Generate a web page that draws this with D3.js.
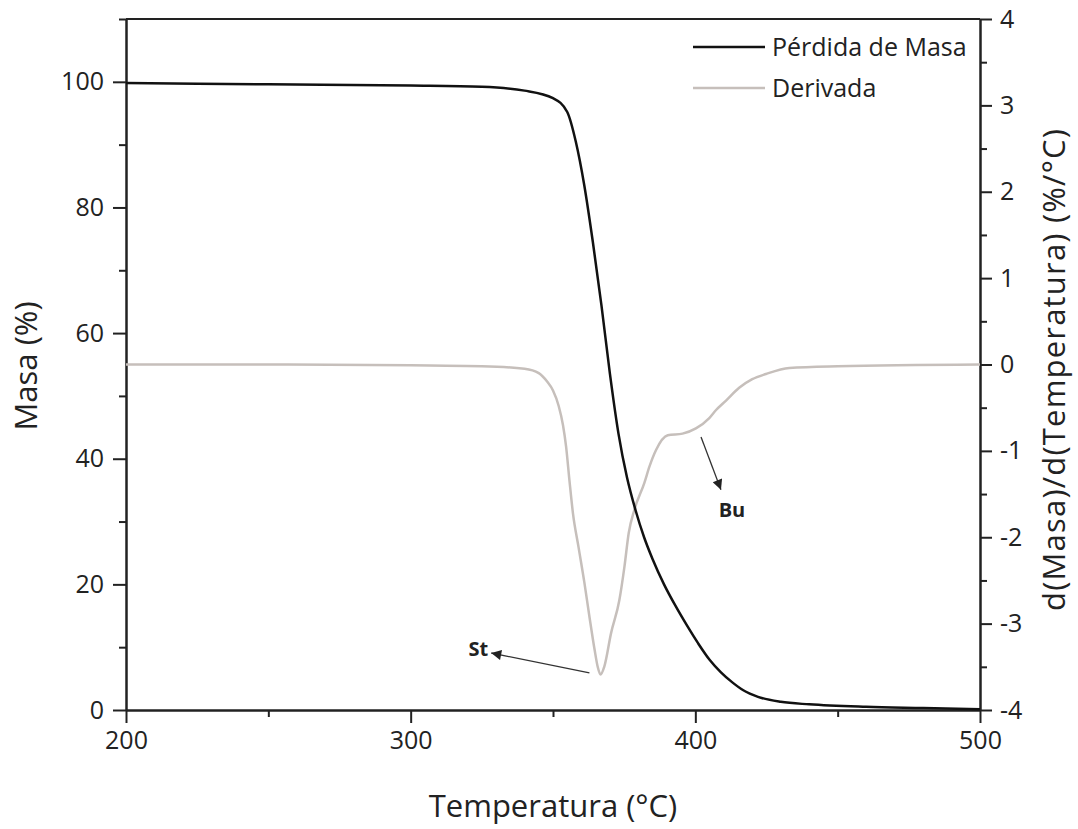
<!DOCTYPE html>
<html>
<head>
<meta charset="utf-8">
<script src="https://cdn.jsdelivr.net/npm/d3@7"></script>
<style>
  body { margin: 0; background: #fff; }
  text { font-family: "Open Sans", sans-serif; fill: #222; }
  .axis path, .axis line { stroke: #222; stroke-width: 2px; }
  .axis text { font-size: 25px; fill: #222; }
</style>
</head>
<body>
<div id="chart"></div>
<script>
// temperature (°C) / mass (%)
var massT = [200, 250, 300, 325, 340, 350, 355, 358, 361, 364, 367, 370, 373, 376, 379, 382, 385, 389, 393, 397, 401, 405, 409, 413, 417, 422, 430, 440, 460, 480, 500];
var massV = [99.8, 99.6, 99.4, 99.2, 98.6, 97.4, 95.2, 90.5, 83.5, 74.5, 64.5, 53.5, 44, 37, 31.8, 27.5, 24, 20, 16.6, 13.5, 10.6, 8.0, 6.0, 4.4, 3.1, 2.1, 1.3, 0.9, 0.5, 0.3, 0.1];

// temperature (°C) / derivative (%/°C)
var derT = [200, 250, 300, 325, 340, 345, 348, 350, 352, 353.5, 354.6, 355.8, 357, 359, 361, 362.8, 364.6, 365.7, 366.7, 368, 370.4, 373.3, 375.1, 376.6, 378.6, 382.1, 383.9, 386.2, 390.3, 395.5, 400.2, 404.9, 407.2, 410.7, 415.4, 420, 424.8, 433, 450, 500];
var derV = [0, 0, -0.01, -0.02, -0.05, -0.1, -0.2, -0.3, -0.48, -0.7, -0.95, -1.35, -1.72, -2.12, -2.52, -2.92, -3.3, -3.5, -3.59, -3.5, -3.11, -2.73, -2.34, -1.95, -1.68, -1.37, -1.18, -0.99, -0.82, -0.8, -0.74, -0.62, -0.53, -0.42, -0.27, -0.17, -0.11, -0.04, -0.02, 0];

var xTicks = [200, 300, 400, 500];
var xMinor = [250, 350, 450];
var yLTicks = [0, 20, 40, 60, 80, 100];
var yLMinor = [10, 30, 50, 70, 90, 110];
var yRTicks = [-4, -3, -2, -1, 0, 1, 2, 3, 4];
var yRMinor = [-3.5, -2.5, -1.5, -0.5, 0.5, 1.5, 2.5, 3.5];

var seriesNames = ["Pérdida de Masa", "Derivada"];
var seriesColors = ["#111111", "#c6bfbb"];

// annotations: [label, arrow start T, start value, arrow end T, end value, label T, label value]
var annSt = ["St", 362.8, -3.57, 328.3, -3.34, 320.3, -3.37];
var annBu = ["Bu", 402, -0.84, 409, -1.45, 408.2, -1.77];

var width = 1078, height = 829;
var margin = {left: 126, right: 98, top: 19, bottom: 119};
var innerW = width - margin.left - margin.right,
    innerH = height - margin.top - margin.bottom;

var svg = d3.select("#chart")
    .append("svg")
    .attr("width", width)
    .attr("height", height);

var g = svg.append("g")
    .attr("transform", "translate(" + margin.left + "," + margin.top + ")");

var x = d3.scaleLinear().domain([200, 500]).range([0, innerW]);
var yL = d3.scaleLinear().domain([0, 110]).range([innerH, 0]);
var yR = d3.scaleLinear().domain([-4, 4]).range([innerH, 0]);

var fmt = function(d) { return String(d); };

// frame top
g.append("line")
    .attr("x1", 0).attr("x2", innerW)
    .attr("y1", 0).attr("y2", 0)
    .attr("stroke", "#222").attr("stroke-width", 2);

// bottom axis
g.append("g").attr("class", "axis")
    .attr("transform", "translate(0," + innerH + ")")
    .call(d3.axisBottom(x).tickValues(xTicks).tickFormat(fmt).tickSize(13).tickSizeOuter(0).tickPadding(8));
g.append("g").attr("class", "axis")
    .attr("transform", "translate(0," + innerH + ")")
    .call(d3.axisBottom(x).tickValues(xMinor).tickFormat("").tickSize(7).tickSizeOuter(0));

// left axis
g.append("g").attr("class", "axis")
    .call(d3.axisLeft(yL).tickValues(yLTicks).tickFormat(fmt).tickSize(13).tickSizeOuter(0).tickPadding(9));
g.append("g").attr("class", "axis")
    .call(d3.axisLeft(yL).tickValues(yLMinor).tickFormat("").tickSize(7).tickSizeOuter(0));

// right axis
g.append("g").attr("class", "axis")
    .attr("transform", "translate(" + innerW + ",0)")
    .call(d3.axisRight(yR).tickValues(yRTicks).tickFormat(fmt).tickSize(12).tickSizeOuter(0).tickPadding(8));
g.append("g").attr("class", "axis")
    .attr("transform", "translate(" + innerW + ",0)")
    .call(d3.axisRight(yR).tickValues(yRMinor).tickFormat("").tickSize(7).tickSizeOuter(0));

// lines
var massLine = d3.line()
    .curve(d3.curveMonotoneX)
    .x(function(d, i) { return x(massT[i]); })
    .y(function(d) { return yL(d); });

var derLine = d3.line()
    .curve(d3.curveMonotoneX)
    .x(function(d, i) { return x(derT[i]); })
    .y(function(d) { return yR(d); });

g.append("path")
    .datum(derV)
    .attr("fill", "none")
    .attr("stroke", seriesColors[1])
    .attr("stroke-width", 2.5)
    .attr("d", derLine);

g.append("path")
    .datum(massV)
    .attr("fill", "none")
    .attr("stroke", seriesColors[0])
    .attr("stroke-width", 2.5)
    .attr("d", massLine);

// arrows
svg.append("defs").append("marker")
    .attr("id", "arr")
    .attr("viewBox", "0 0 10 10")
    .attr("refX", 10).attr("refY", 5)
    .attr("markerWidth", 15).attr("markerHeight", 10)
    .attr("markerUnits", "userSpaceOnUse")
    .attr("orient", "auto")
    .append("path")
    .attr("d", "M0,0L10,5L0,10Z")
    .attr("fill", "#222");

[annSt, annBu].forEach(function(a) {
    g.append("line")
        .attr("x1", x(a[1])).attr("y1", yR(a[2]))
        .attr("x2", x(a[3])).attr("y2", yR(a[4]))
        .attr("stroke", "#333").attr("stroke-width", 1.3)
        .attr("marker-end", "url(#arr)");
    g.append("text")
        .attr("x", x(a[5])).attr("y", yR(a[6]))
        .style("font-size", "20px")
        .style("font-weight", "bold")
        .text(a[0]);
});

// legend
var leg = g.append("g").attr("transform", "translate(" + (693 - margin.left) + "," + (47 - margin.top) + ")");
seriesNames.forEach(function(n, i) {
    leg.append("line")
        .attr("x1", 0).attr("x2", 72)
        .attr("y1", i * 41).attr("y2", i * 41)
        .attr("stroke", seriesColors[i]).attr("stroke-width", 2.5);
    leg.append("text")
        .attr("x", 79).attr("y", i * 41 + 9)
        .style("font-size", "25px")
        .text(n);
});

// axis titles
svg.append("text")
    .attr("x", margin.left + innerW / 2).attr("y", 817)
    .attr("text-anchor", "middle")
    .style("font-size", "31px")
    .text("Temperatura (°C)");

svg.append("text")
    .attr("transform", "translate(37,366) rotate(-90)")
    .attr("text-anchor", "middle")
    .style("font-size", "31px")
    .text("Masa (%)");

svg.append("text")
    .attr("transform", "translate(1065,370) rotate(-90)")
    .attr("text-anchor", "middle")
    .attr("textLength", 482)
    .attr("lengthAdjust", "spacing")
    .style("font-size", "31px")
    .text("d(Masa)/d(Temperatura) (%/°C)");
</script>
</body>
</html>
